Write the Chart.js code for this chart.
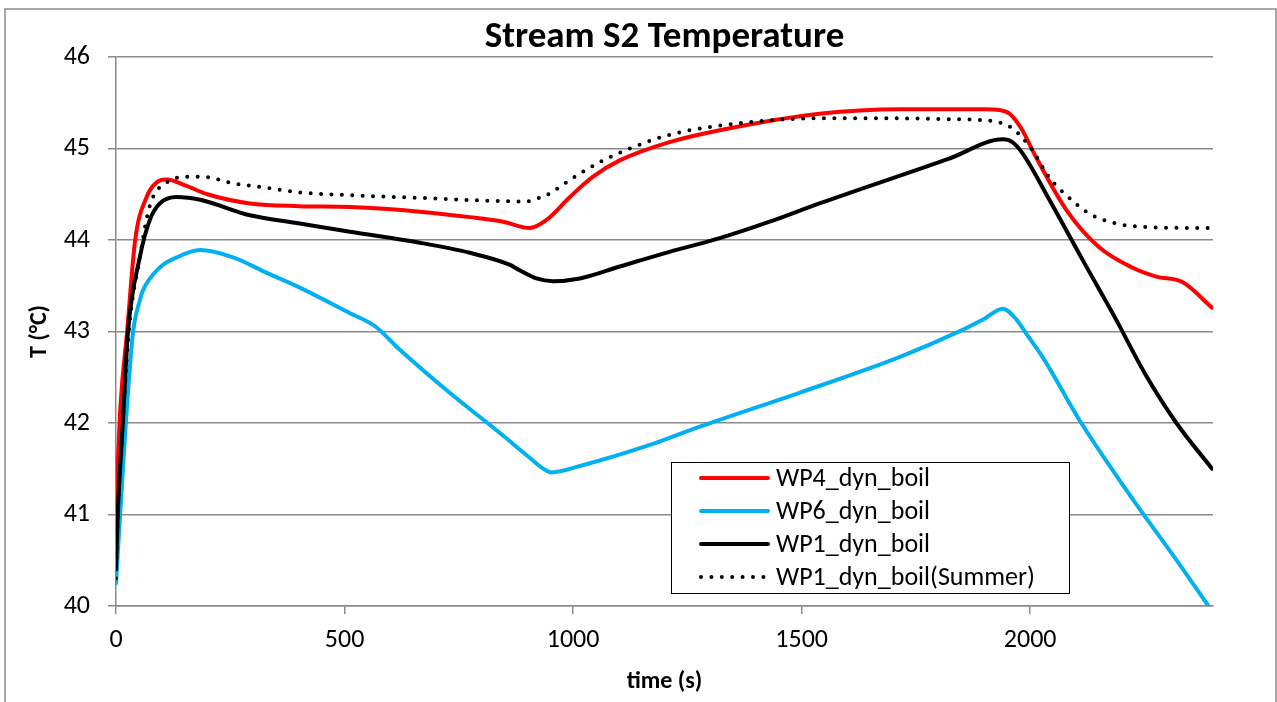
<!DOCTYPE html>
<html>
<head>
<meta charset="utf-8">
<title>Stream S2 Temperature</title>
<script src="https://cdn.jsdelivr.net/npm/chart.js@4.4.1/dist/chart.umd.min.js"></script>
<style>
  html, body { margin: 0; padding: 0; background: #fff; }
  #wrap { width: 1277px; height: 702px; }
</style>
</head>
<body>
<div id="wrap"><canvas id="temp-chart" width="1277" height="702"></canvas></div>
<script>
// time (s) / temperature (°C) per run
const wp4Time = [0, 10, 24, 42, 67, 89, 111, 150, 200, 293, 400, 512, 665, 774, 847, 905, 942, 993, 1043, 1102, 1211, 1321, 1539, 1714, 1900, 1933, 1955, 1983, 2005, 2079, 2151, 2223, 2276, 2333, 2398];
const wp4Temp = [41.1, 42.2, 42.98, 44.0, 44.47, 44.63, 44.66, 44.6, 44.5, 44.4, 44.37, 44.36, 44.31, 44.25, 44.2, 44.13, 44.22, 44.47, 44.69, 44.87, 45.07, 45.2, 45.38, 45.43, 45.43, 45.42, 45.38, 45.2, 44.98, 44.33, 43.92, 43.7, 43.6, 43.54, 43.26];

const wp6Time = [0, 20, 37, 52, 59, 96, 133, 184, 256, 330, 402, 512, 566, 621, 730, 840, 905, 938, 953, 1015, 1168, 1277, 1495, 1714, 1840, 1900, 1940, 1970, 1991, 2031, 2108, 2217, 2326, 2390];
const wp6Temp = [40.25, 41.89, 42.98, 43.34, 43.45, 43.7, 43.81, 43.89, 43.81, 43.64, 43.48, 43.2, 43.06, 42.8, 42.33, 41.89, 41.62, 41.49, 41.46, 41.53, 41.76, 41.96, 42.33, 42.72, 42.99, 43.14, 43.25, 43.13, 42.98, 42.69, 42.03, 41.22, 40.46, 40.0];

const wp1Time = [0, 4, 15, 26, 52, 74, 96, 133, 184, 293, 402, 512, 665, 774, 861, 883, 920, 955, 1015, 1102, 1211, 1321, 1430, 1539, 1823, 1940, 1961, 1983, 2042, 2115, 2188, 2250, 2320, 2398];
const wp1Temp = [40.4, 41.02, 42.0, 42.98, 43.81, 44.22, 44.4, 44.47, 44.44, 44.27, 44.18, 44.09, 43.97, 43.86, 43.73, 43.67, 43.58, 43.55, 43.58, 43.71, 43.87, 44.02, 44.2, 44.4, 44.89, 45.1, 45.07, 44.95, 44.44, 43.78, 43.13, 42.55, 42.0, 41.5];

const wp1sTime = [0, 4, 15, 28, 52, 70, 85, 103, 122, 147, 191, 256, 330, 402, 512, 665, 811, 898, 920, 942, 1000, 1058, 1124, 1211, 1321, 1539, 1700, 1823, 1917, 1961, 2005, 2042, 2079, 2129, 2188, 2261, 2398];
const wp1sTemp = [40.3, 41.0, 42.0, 43.0, 43.8, 44.3, 44.51, 44.6, 44.66, 44.69, 44.69, 44.62, 44.57, 44.52, 44.49, 44.46, 44.43, 44.42, 44.45, 44.49, 44.68, 44.85, 45.0, 45.15, 45.25, 45.33, 45.33, 45.32, 45.3, 45.22, 44.98, 44.68, 44.49, 44.29, 44.18, 44.14, 44.13];

const seriesNames = ['WP4_dyn_boil', 'WP6_dyn_boil', 'WP1_dyn_boil', 'WP1_dyn_boil(Summer)'];
const xTicks = [0, 500, 1000, 1500, 2000];
const yTicks = [40, 41, 42, 43, 44, 45, 46];

const FONT = 'Carlito, Lato, sans-serif';
const GRID = '#8a8a8a';

function points(ts, vs) {
    return ts.map((t, i) => ({ x: t, y: vs[i] }));
}

function lineSet(label, ts, vs, color, order, dotted) {
    return {
        label: label,
        data: points(ts, vs),
        borderColor: color,
        backgroundColor: color,
        borderWidth: 4,
        borderDash: dotted ? [0, 10.4] : [],
        borderCapStyle: 'round',
        borderJoinStyle: 'round',
        pointRadius: 0,
        cubicInterpolationMode: 'monotone',
        fill: false,
        order: order
    };
}

// outer frame of the chart
const framePlugin = {
    id: 'frame',
    beforeDraw(chart) {
        const ctx = chart.ctx;
        ctx.save();
        ctx.fillStyle = '#fff';
        ctx.fillRect(0, 0, chart.width, chart.height);
        ctx.strokeStyle = GRID;
        ctx.lineWidth = 1.5;
        ctx.strokeRect(5, 9, 1271, 720);
        ctx.restore();
    }
};

// boxed legend sitting inside the plot
const boxLegend = {
    id: 'boxLegend',
    afterDatasetsDraw(chart) {
        const ctx = chart.ctx;
        const box = { x: 671, y: 462, w: 398, h: 131 };
        ctx.save();
        ctx.fillStyle = '#fff';
        ctx.fillRect(box.x, box.y, box.w, box.h);
        ctx.strokeStyle = '#000';
        ctx.lineWidth = 1;
        ctx.strokeRect(box.x + 0.5, box.y + 0.5, box.w, box.h);
        ctx.font = '26px ' + FONT;
        ctx.textBaseline = 'middle';
        chart.data.datasets.forEach((ds, i) => {
            const y = 478 + i * 33;
            ctx.strokeStyle = ds.borderColor;
            ctx.lineWidth = ds.borderWidth;
            ctx.lineCap = 'round';
            ctx.setLineDash(ds.borderDash);
            ctx.beginPath();
            ctx.moveTo(701, y);
            ctx.lineTo(768, y);
            ctx.stroke();
            ctx.setLineDash([]);
            ctx.fillStyle = '#000';
            ctx.fillText(ds.label, 776, y + 1);
        });
        ctx.restore();
    }
};

const ctx = document.getElementById('temp-chart').getContext('2d');
new Chart(ctx, {
    type: 'line',
    data: {
        datasets: [
            lineSet(seriesNames[0], wp4Time, wp4Temp, '#ff0000', 4, false),
            lineSet(seriesNames[1], wp6Time, wp6Temp, '#00b0f0', 3, false),
            lineSet(seriesNames[2], wp1Time, wp1Temp, '#000000', 2, false),
            lineSet(seriesNames[3], wp1sTime, wp1sTemp, '#000000', 1, true)
        ]
    },
    options: {
        responsive: false,
        animation: false,
        layout: { padding: { left: 0, right: 64, top: 0, bottom: 0 } },
        plugins: {
            legend: { display: false },
            tooltip: { enabled: false },
            title: {
                display: true,
                fullSize: false,
                text: 'Stream S2 Temperature',
                color: '#000',
                font: { family: FONT, size: 37, weight: 'bold', lineHeight: 1.0 },
                padding: { top: 19.5, bottom: 0.5 }
            }
        },
        scales: {
            x: {
                type: 'linear',
                min: 0,
                max: 2400,
                afterBuildTicks: s => { s.ticks = xTicks.map(v => ({ value: v })); },
                afterFit: s => { s.height = 96; },
                grid: { drawOnChartArea: false, drawTicks: true, tickLength: 8, color: GRID, lineWidth: 1.5 },
                border: { color: GRID, width: 1.5 },
                ticks: { color: '#000', padding: 11, font: { family: FONT, size: 26 }, callback: v => String(v) },
                title: {
                    display: true,
                    text: 'time (s)',
                    color: '#000',
                    font: { family: FONT, size: 24, weight: 'bold', lineHeight: 1.2 },
                    padding: { top: 0, bottom: 5.6 }
                }
            },
            y: {
                type: 'linear',
                min: 40,
                max: 46,
                afterBuildTicks: s => { s.ticks = yTicks.map(v => ({ value: v })); },
                afterFit: s => { s.width = 116; },
                grid: { drawTicks: true, tickLength: 8, color: GRID, lineWidth: 1.5 },
                border: { color: GRID, width: 1.5 },
                ticks: { color: '#000', padding: 18, font: { family: FONT, size: 26 } },
                title: {
                    display: true,
                    text: 'T (°C)',
                    color: '#000',
                    font: { family: FONT, size: 24, weight: 'bold', lineHeight: 1.2 },
                    padding: { top: 25.6, bottom: 0 }
                }
            }
        }
    },
    plugins: [framePlugin, boxLegend]
});
</script>
</body>
</html>
